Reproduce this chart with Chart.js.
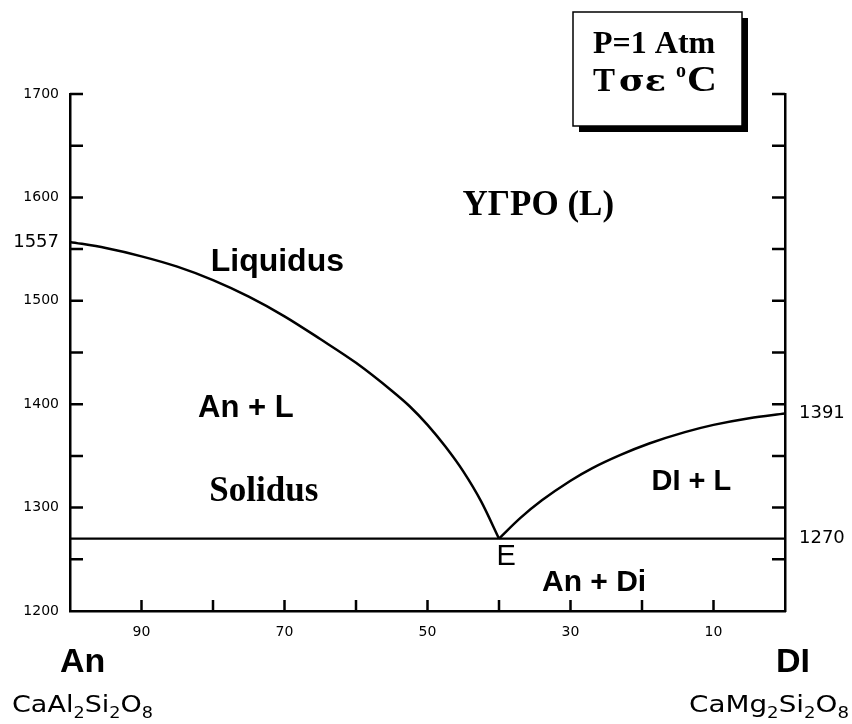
<!DOCTYPE html>
<html>
<head>
<meta charset="utf-8">
<script src="https://cdn.jsdelivr.net/npm/chart.js@4/dist/chart.umd.min.js"></script>
<style>
  html, body { margin: 0; padding: 0; background: #fff; }
  #wrap { width: 852px; height: 724px; }
</style>
</head>
<body>
<div id="wrap"><canvas id="c" width="852" height="724"></canvas></div>
<script>
// Composition axis: wt% An (100 = pure anorthite on the left, 0 = pure diopside on the right)
// Anorthite-side liquidus, from the An melting point down to the eutectic E
const anLiquidusX = [100, 95, 90, 85, 80, 75, 70, 65, 60, 55, 52.5, 50, 47.5, 45, 42.5, 40];
const anLiquidusT = [1557, 1551, 1543, 1533, 1520, 1504, 1485, 1463, 1440, 1413, 1398, 1380, 1359, 1335, 1306, 1270];

// Diopside-side liquidus, from the eutectic E up to the Di melting point
const diLiquidusX = [40, 37, 34, 30, 27, 23, 19, 14, 10, 5, 0];
const diLiquidusT = [1270, 1290, 1307, 1326, 1338, 1351, 1362, 1373, 1380, 1386.5, 1391];

// Eutectic (solidus) isotherm
const solidusX = [100, 0];
const solidusT = [1270, 1270];

// Labelled ticks
const leftTickLabels = [1200, 1300, 1400, 1500, 1557, 1600, 1700];
const rightTickLabels = [1270, 1391];
const bottomTickLabels = [90, 70, 50, 30, 10];

// Unlabelled inner tick spacing
const tempTickStep = 50;
const compTickStep = 10;

// Phase-field names placed in data coordinates (wt% An, °C)
const fieldLabels = [
  { text: 'ΥΓΡΟ (L)', x: 34.5, t: 1592, font: 'bold 35px "Liberation Serif"' },
  { text: 'Liquidus', x: 71.0, t: 1537, font: 'bold 32px "Liberation Sans"' },
  { text: 'An + L',   x: 75.4, t: 1396, font: 'bold 31px "Liberation Sans"' },
  { text: 'Solidus',  x: 72.9, t: 1315, font: 'bold 35px "Liberation Serif"' },
  { text: 'DI + L',   x: 13.1, t: 1325, font: 'bold 29px "Liberation Sans"' },
  { text: 'E',        x: 39.0, t: 1252, font: '29px "Liberation Sans"' },
  { text: 'An + Di',  x: 26.7, t: 1227, font: 'bold 30px "Liberation Sans"' }
];

const toPoints = (xs, ts) => xs.map((x, i) => ({ x: x, y: ts[i] }));

const lineStyle = {
  borderColor: '#000',
  borderWidth: 2.5,
  pointRadius: 0,
  fill: false,
  cubicInterpolationMode: 'monotone'
};

// Text runs: a run may be lowered (subscript) or raised (superscript) via dy
function runsWidth(ctx, runs) {
  let w = 0;
  runs.forEach(r => { ctx.font = r.font; w += ctx.measureText(r.text).width; });
  return w;
}
// Draws runs starting at x, stretched horizontally to the given width
function drawRunsFit(ctx, runs, x, y, width) {
  const natural = runsWidth(ctx, runs);
  const sx = width / natural;
  ctx.save();
  ctx.translate(x, y);
  ctx.scale(sx, 1);
  let cx = 0;
  runs.forEach(r => {
    ctx.font = r.font;
    ctx.fillText(r.text, cx, r.dy || 0);
    cx += ctx.measureText(r.text).width;
  });
  ctx.restore();
}
// Single piece of text stretched to a width, left-aligned at x
function drawFit(ctx, text, font, x, y, width) {
  drawRunsFit(ctx, [{ text: text, font: font }], x, y, width);
}
function formula(parts) {
  const big = '23px "DejaVu Sans"', small = '15px "DejaVu Sans"';
  return parts.map(p => typeof p === 'number'
    ? { text: String(p), font: small, dy: 8 }
    : { text: p, font: big });
}

const diagramDecor = {
  id: 'diagramDecor',
  afterDraw(chart) {
    const { ctx, chartArea: a, scales } = chart;
    const x = scales.x, y = scales.y;
    ctx.save();

    // inward tick marks on the three axes
    ctx.strokeStyle = '#000';
    ctx.lineWidth = 2.5;
    ctx.beginPath();
    for (let t = y.min + tempTickStep; t <= y.max; t += tempTickStep) {
      const py = y.getPixelForValue(t);
      ctx.moveTo(a.left, py);  ctx.lineTo(a.left + 13, py);
      ctx.moveTo(a.right, py); ctx.lineTo(a.right - 13, py);
    }
    for (let v = x.min + compTickStep; v < x.max; v += compTickStep) {
      const px = x.getPixelForValue(v);
      ctx.moveTo(px, a.bottom); ctx.lineTo(px, a.bottom - 11);
    }
    ctx.stroke();

    // phase-field names
    ctx.fillStyle = '#000';
    ctx.textAlign = 'center';
    ctx.textBaseline = 'middle';
    fieldLabels.forEach(l => {
      ctx.font = l.font;
      ctx.fillText(l.text, x.getPixelForValue(l.x), y.getPixelForValue(l.t));
    });

    // end-member names and formulas
    ctx.textAlign = 'left';
    ctx.font = 'bold 34px "Liberation Sans"';
    ctx.fillText('An', a.left - 10, 663);
    ctx.textAlign = 'right';
    ctx.fillText('DI', a.right + 25, 663);
    ctx.textAlign = 'left';
    drawRunsFit(ctx, formula(['CaAl', 2, 'Si', 2, 'O', 8]), 12, 706, 141);
    drawRunsFit(ctx, formula(['CaMg', 2, 'Si', 2, 'O', 8]), 689, 706, 160);

    // conditions box with drop shadow
    const bx = 573, by = 12, bw = 169, bh = 114;
    ctx.fillStyle = '#000';
    ctx.fillRect(bx + 6, by + 6, bw, bh);
    ctx.fillStyle = '#fff';
    ctx.fillRect(bx, by, bw, bh);
    ctx.strokeStyle = '#000';
    ctx.lineWidth = 1.5;
    ctx.strokeRect(bx, by, bw, bh);
    ctx.fillStyle = '#000';
    ctx.textBaseline = 'alphabetic';
    ctx.font = 'bold 32px "Liberation Serif"';
    ctx.fillText('P=1 Atm', 593, 53);
    ctx.font = 'bold 33px "Liberation Serif"';
    ctx.fillText('T', 593, 91);
    drawFit(ctx, 'σε', 'bold 30px "DejaVu Serif"', 619, 91, 47);
    drawFit(ctx, 'o', 'bold 21px "Liberation Serif"', 676, 77, 10);
    drawFit(ctx, 'C', 'bold 35px "Liberation Serif"', 687, 91, 30);

    ctx.restore();
  }
};

const smallTick = { family: 'DejaVu Sans', size: 14 };
const bigTick = { family: 'DejaVu Sans', size: 18 };
const plainNumber = v => String(v);

new Chart(document.getElementById('c'), {
  type: 'line',
  data: {
    datasets: [
      Object.assign({ label: 'An liquidus', data: toPoints(anLiquidusX, anLiquidusT) }, lineStyle),
      Object.assign({ label: 'Di liquidus', data: toPoints(diLiquidusX, diLiquidusT) }, lineStyle),
      Object.assign({ label: 'Solidus', data: toPoints(solidusX, solidusT) }, lineStyle, { borderWidth: 2.2 })
    ]
  },
  options: {
    responsive: false,
    animation: false,
    devicePixelRatio: 1,
    layout: { padding: { top: 94, left: 0, right: 0, bottom: 0 } },
    plugins: { legend: { display: false }, tooltip: { enabled: false }, title: { display: false } },
    scales: {
      x: {
        type: 'linear', position: 'bottom', reverse: true, min: 0, max: 100,
        afterBuildTicks: s => { s.ticks = bottomTickLabels.map(v => ({ value: v })); },
        afterFit: s => { s.height = 113; },
        grid: { display: false, drawTicks: false },
        border: { display: true, color: '#000', width: 2.5 },
        ticks: { padding: 13, color: '#000', font: smallTick, maxRotation: 0, autoSkip: false, callback: plainNumber }
      },
      y: {
        type: 'linear', position: 'left', min: 1200, max: 1700,
        afterBuildTicks: s => { s.ticks = leftTickLabels.map(v => ({ value: v })); },
        afterFit: s => { s.width = 70; },
        grid: { display: false, drawTicks: false },
        border: { display: true, color: '#000', width: 2.5 },
        ticks: {
          padding: 11, color: '#000', autoSkip: false, callback: plainNumber,
          font: c => (c.tick && c.tick.value === 1557) ? bigTick : smallTick
        }
      },
      y2: {
        type: 'linear', position: 'right', min: 1200, max: 1700,
        afterBuildTicks: s => { s.ticks = rightTickLabels.map(v => ({ value: v })); },
        afterFit: s => { s.width = 67; },
        grid: { display: false, drawTicks: false },
        border: { display: true, color: '#000', width: 2.5 },
        ticks: { padding: 14, color: '#000', autoSkip: false, font: bigTick, callback: plainNumber }
      }
    }
  },
  plugins: [diagramDecor]
});
</script>
</body>
</html>
